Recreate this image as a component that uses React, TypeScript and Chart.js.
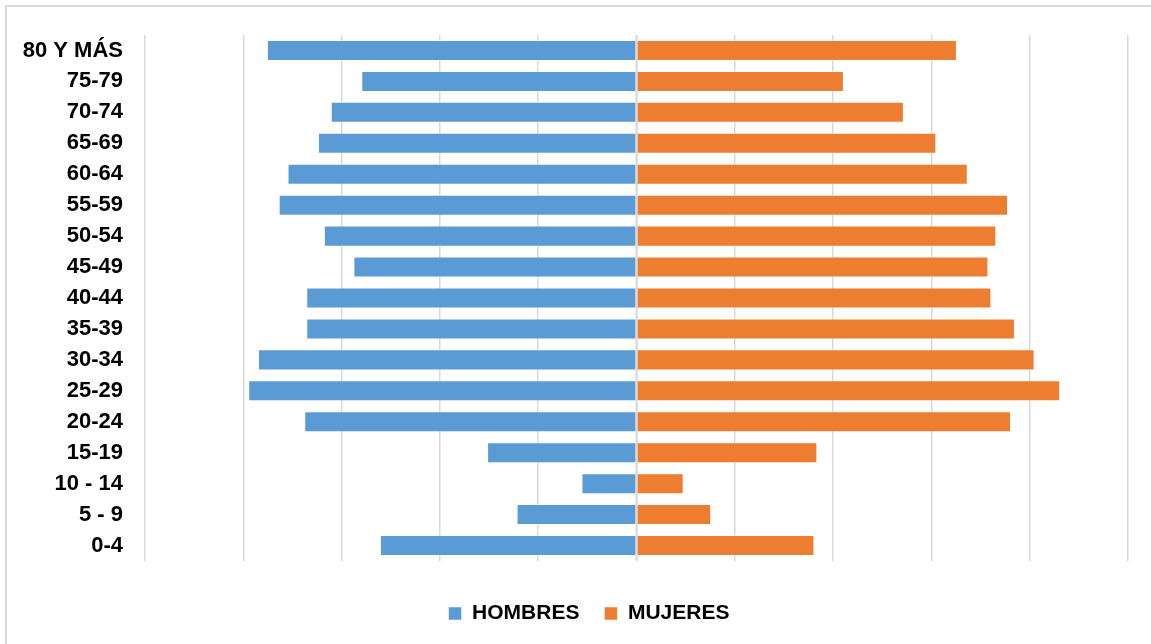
import React, { useEffect, useRef } from "react";
import { Chart, registerables } from "chart.js";

Chart.register(...registerables);

const ageGroups = [
  "80 Y MÁS", "75-79", "70-74", "65-69", "60-64", "55-59", "50-54", "45-49",
  "40-44", "35-39", "30-34", "25-29", "20-24", "15-19", "10 - 14", "5 - 9", "0-4",
];

// values in grid units (one vertical gridline = 1)
const hombres = [3.76, 2.8, 3.11, 3.24, 3.55, 3.64, 3.18, 2.88, 3.36, 3.36, 3.85, 3.95, 3.38, 1.52, 0.56, 1.22, 2.61];
const mujeres = [3.26, 2.11, 2.72, 3.05, 3.37, 3.78, 3.66, 3.58, 3.61, 3.85, 4.05, 4.31, 3.81, 1.84, 0.48, 0.76, 1.81];

const axisMin = -5;
const axisMax = 5;
const axisStep = 1;

const FONT = "'Liberation Sans', Arial, sans-serif";

const zeroLine = {
  id: "zeroLine",
  afterDatasetsDraw(chart: any) {
    const { ctx, chartArea, scales } = chart;
    const x = scales.x.getPixelForValue(0);
    ctx.save();
    ctx.strokeStyle = "#d9d9d9";
    ctx.lineWidth = 2;
    ctx.beginPath();
    ctx.moveTo(x, chartArea.top);
    ctx.lineTo(x, chartArea.bottom);
    ctx.stroke();
    ctx.restore();
  },
};

export default function App() {
  const ref = useRef<HTMLCanvasElement | null>(null);

  useEffect(() => {
    if (!ref.current) return;
    const chart = new Chart(ref.current, {
      type: "bar",
      data: {
        labels: ageGroups,
        datasets: [
          {
            label: "HOMBRES",
            data: hombres.map((v) => -v),
            backgroundColor: "#5B9BD5",
            borderColor: "rgba(255,255,255,0.5)",
            borderWidth: 1,
            barPercentage: 0.68,
            categoryPercentage: 1,
          },
          {
            label: "MUJERES",
            data: mujeres,
            backgroundColor: "#ED7D31",
            borderColor: "rgba(255,255,255,0.5)",
            borderWidth: 1,
            barPercentage: 0.68,
            categoryPercentage: 1,
          },
        ],
      },
      options: {
        indexAxis: "y",
        responsive: false,
        animation: false,
        layout: { padding: { top: 28, right: 0, left: 0, bottom: 10 } },
        scales: {
          x: {
            stacked: true,
            min: axisMin,
            max: axisMax,
            ticks: { display: false, stepSize: axisStep },
            grid: { color: "#d9d9d9", lineWidth: 1.5, drawTicks: false },
            border: { display: false },
            afterFit: (scale: any) => {
              scale.height = 17;
              scale.paddingLeft = 0;
              scale.paddingRight = 0;
            },
          },
          y: {
            stacked: true,
            grid: { display: false, drawTicks: false },
            border: { display: false },
            ticks: {
              color: "#000",
              padding: 22,
              font: { family: FONT, size: 22, weight: "bold" },
            },
            afterFit: (scale: any) => {
              scale.width = 138;
              scale.paddingTop = 0;
              scale.paddingBottom = 0;
            },
          },
          yRight: {
            type: "category",
            position: "right",
            display: true,
            grid: { display: false, drawTicks: false },
            border: { display: false },
            ticks: { display: false },
            afterFit: (scale: any) => {
              scale.width = 43;
              scale.paddingTop = 0;
              scale.paddingBottom = 0;
            },
          },
        },
        plugins: {
          legend: {
            position: "bottom",
            labels: {
              color: "#000",
              boxWidth: 13,
              boxHeight: 13,
              padding: 25,
              font: { family: FONT, size: 21, weight: "bold" },
            },
          },
          tooltip: { enabled: false },
        },
      },
      plugins: [zeroLine],
    });
    return () => chart.destroy();
  }, []);

  return (
    <div style={{ position: "fixed", left: 0, top: 0, width: 1151, height: 644, overflow: "hidden", background: "#fff" }}>
      <div
        style={{
          position: "absolute",
          left: 5,
          top: 5,
          width: 1170,
          height: 660,
          border: "2px solid #d9d9d9",
          boxSizing: "border-box",
          background: "#fff",
        }}
      >
        <canvas ref={ref} width={1164} height={637} style={{ display: "block" }} />
      </div>
    </div>
  );
}
